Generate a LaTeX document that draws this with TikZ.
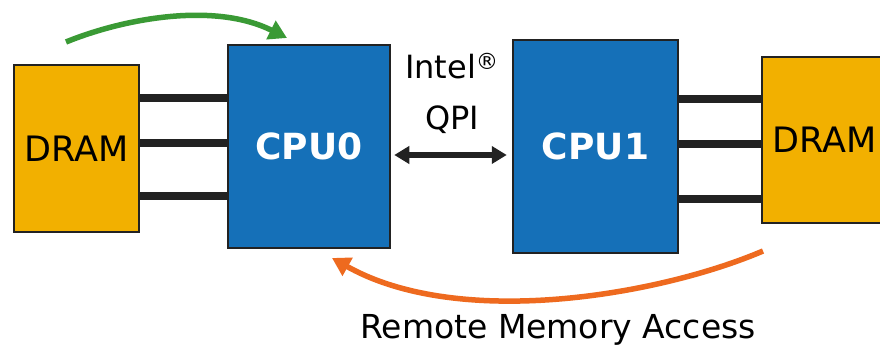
\documentclass[tikz,border=0pt]{standalone}
\usepackage{fontspec}
\setmainfont{DejaVu Sans}
\usetikzlibrary{positioning,arrows.meta}
\definecolor{dramfill}{HTML}{F2B000}
\definecolor{cpufill}{HTML}{1570B8}
\definecolor{localgreen}{HTML}{3A9A35}
\definecolor{remoteorange}{HTML}{EE6A1F}
\definecolor{edgegray}{HTML}{222222}
\begin{document}
\begin{tikzpicture}[x=1pt,y=-1pt,
	drambox/.style={draw=edgegray,line width=2.5pt,fill=dramfill,minimum width=125pt,minimum height=167pt,inner sep=0pt,font=\fontsize{35}{40}\selectfont},
	cpubox/.style={draw=edgegray,line width=2.5pt,fill=cpufill,inner sep=0pt,text=white,font=\fontsize{36}{40}\selectfont\bfseries},
	bus/.style={draw=edgegray,line width=8pt},
	qpilink/.style={draw=edgegray,line width=6pt,{Triangle[length=15pt,width=17pt]}-{Triangle[length=15pt,width=17pt]}},
	memarrow/.style={line width=5.5pt,-{Triangle[length=18pt,width=20pt]}}]
			\clip (0,0) rectangle (880,352);
			\fill[white] (0,0) rectangle (880,352);

			\node[cpubox,minimum width=162pt,minimum height=203pt]		(cpu0)	at (309,146.5)	{CPU0};
			\node[cpubox,minimum width=165pt,minimum height=213pt]		(cpu1)	at (595.5,146.5)	{CPU1};
			\node[drambox]												(dram0)	at (76.5,148.5)	{DRAM};
			\node[drambox,minimum height=166pt]							(dram1)	at (824.5,140)	{DRAM};

			\node[font=\fontsize{32}{36}\selectfont]					(intel)	at (452,66)	{Intel\textsuperscript{®}};
			\node[font=\fontsize{32}{36}\selectfont,below=51pt of intel.base,anchor=base]	(qpi)	{QPI};
			\node[font=\fontsize{33}{38}\selectfont]					(rma)	at (558,330)	{Remote Memory Access};

			\coordinate (lstart) at (66,42);
			\coordinate (lend) at (287,38);
			\coordinate (rstart) at (763,251);
			\coordinate (rend) at (332,258);

			\draw[bus] (dram0.east |- 0,98) -- (cpu0.west |- 0,98);
			\draw[bus] (dram0.east |- 0,143) -- (cpu0.west |- 0,143);
			\draw[bus] (dram0.east |- 0,196) -- (cpu0.west |- 0,196);
			\draw[bus] (cpu1.east |- 0,99) -- (dram1.west |- 0,99);
			\draw[bus] (cpu1.east |- 0,144) -- (dram1.west |- 0,144);
			\draw[bus] (cpu1.east |- 0,199) -- (dram1.west |- 0,199);

			\draw[qpilink,shorten <=3pt,shorten >=5pt] (cpu0.east |- 0,155) -- (cpu1.west |- 0,155);

			\draw[memarrow,localgreen] (lstart) .. controls (125,18) and (215,2) .. (lend);
			\draw[memarrow,remoteorange] (rstart) .. controls (660,295) and (460,330) .. (rend);
		\end{tikzpicture}
\end{document}
